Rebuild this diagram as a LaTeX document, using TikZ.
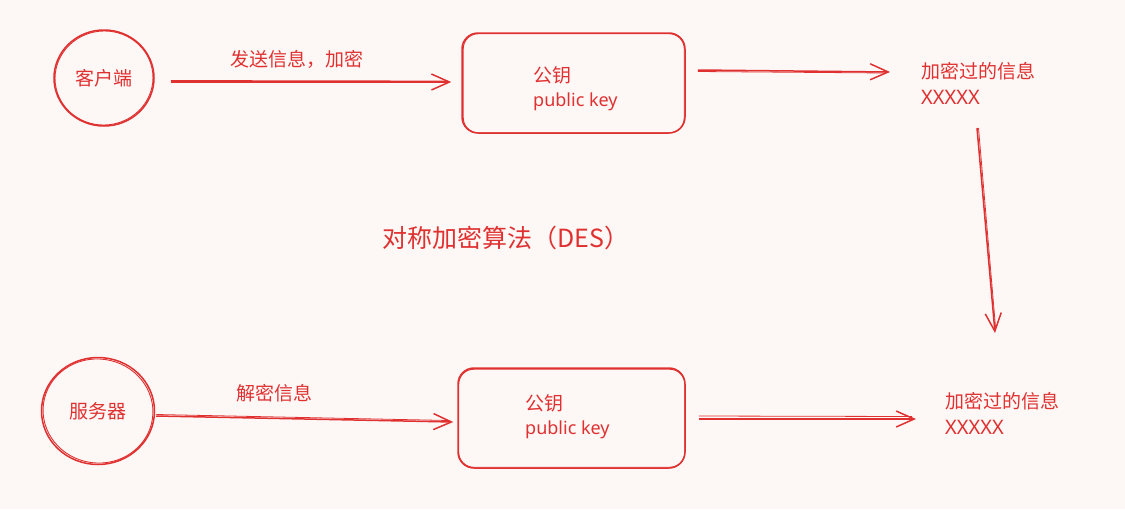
\documentclass[tikz,border=0pt]{standalone}
\usepackage{fontspec}
\setmainfont{Noto Sans CJK SC}
\newfontfamily\latinfont{Noto Sans}
\usetikzlibrary{shapes.geometric,arrows.meta}
\definecolor{exred}{HTML}{E03131}
\definecolor{bgc}{HTML}{FDF8F6}
\begin{document}
\begin{tikzpicture}[x=1pt,y=-1pt,
  sk/.style={draw=exred,line width=1.5pt},
  sk2/.style={draw=exred,line width=0.9pt},
  circ/.style={ellipse,sk,inner sep=0pt,text=exred,font=\fontsize{19}{22}\selectfont},
  box/.style={rectangle,rounded corners=16pt,sk,inner sep=0pt},
  txt/.style={text=exred,font=\fontsize{19}{22}\selectfont,inner sep=0pt,anchor=west},
  lat/.style={text=exred,font=\latinfont\fontsize{18}{22}\selectfont,inner sep=0pt,anchor=west},
  ttl/.style={text=exred,font=\fontsize{25}{30}\selectfont,inner sep=0pt,anchor=west},
  arr/.style={draw=exred,line width=1.5pt,-{Straight Barb[length=18pt,width=16pt,line width=1.5pt]}},
  arr2/.style={draw=exred,line width=0.8pt}]
\useasboundingbox[fill=bgc] (0,0) rectangle (1125,509);

% top row
\node[circ,minimum width=100pt,minimum height=96pt] (c1) at (104,78) {客户端};
\draw[sk2] (c1.center) ellipse [x radius=49, y radius=47, rotate=6];
\node[box,minimum width=223pt,minimum height=100pt] (k1) at (573.5,83) {};
\draw[sk2,rounded corners=15pt] ([shift={(2,1.5)}]k1.north west) rectangle ([shift={(-1.5,-1)}]k1.south east);
\node[txt] (k1a) at (533,75) {公钥};
\node[lat] (k1b) at (533,102) {public key};
\node[txt,anchor=center] (l1) at (297,59) {发送信息，加密};
\node[txt] (m1) at (921,71) {加密过的信息};
\node[lat,font=\latinfont\fontsize{20}{22}\selectfont] (x1) at (921,97) {XXXXX};
\coordinate (e3) at (995,333);

\draw[arr] ([shift={(16,4)}]c1.east) -- ([shift={(-10,-1)}]k1.west);
\draw[arr2] ([shift={(16,2.5)}]c1.east) -- ([shift={(-14,-2)}]k1.west);
\draw[arr] ([shift={(12,-13)}]k1.east) -- ([shift={(-31,1)}]m1.west);
\draw[arr2] ([shift={(12,-11.5)}]k1.east) -- ([shift={(-35,2)}]m1.west);
\draw[arr] ([shift={(56,31)}]x1.west) -- (e3);
\draw[arr2] ([shift={(57.5,31)}]x1.west) -- ([shift={(0.5,-6)}]e3);

% title
\node[ttl] (t) at (382,238) {对称加密算法（DES）};

% bottom row
\node[circ,minimum width=113pt,minimum height=107pt] (c2) at (98,411) {服务器};
\draw[sk2] (c2.center) ellipse [x radius=55, y radius=52, rotate=-8];
\node[box,minimum width=227pt,minimum height=100pt] (k2) at (571.5,418) {};
\draw[sk2,rounded corners=15pt] ([shift={(1.5,2)}]k2.north west) rectangle ([shift={(-1,-1.5)}]k2.south east);
\node[txt] (k2a) at (525,403) {公钥};
\node[lat] (k2b) at (525,430) {public key};
\node[txt,anchor=center] (l2) at (274,393) {解密信息};
\node[txt] (m2) at (945,401) {加密过的信息};
\node[lat,font=\latinfont\fontsize{20}{22}\selectfont] (x2) at (945,427) {XXXXX};

\draw[arr] ([shift={(1,5)}]c2.east) -- ([shift={(-4,4)}]k2.west);
\draw[arr2] ([shift={(1,3.5)}]c2.east) -- ([shift={(-8,2.5)}]k2.west);
\draw[arr] ([shift={(13,1)}]k2.east) -- ([shift={(-29,18)}]m2.west);
\draw[arr2] ([shift={(13,-2)}]k2.east) -- ([shift={(-33,15.5)}]m2.west);
\end{tikzpicture}
\end{document}
